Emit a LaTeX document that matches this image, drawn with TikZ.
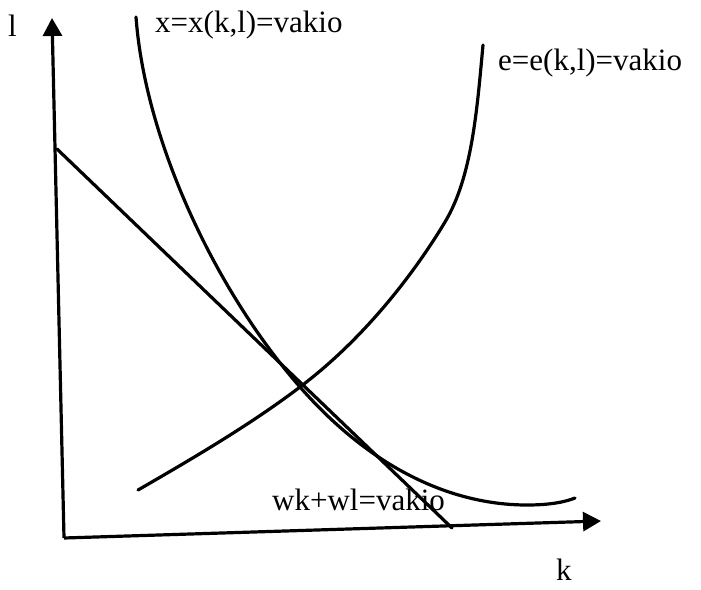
\documentclass[tikz,border=0pt]{standalone}
\usepackage{fontspec}
\setmainfont{Liberation Serif}
\usetikzlibrary{arrows.meta}
\tikzset{
  axis/.style={line width=3.2pt, -{Triangle[length=18pt,width=19pt]}},
  curve/.style={line width=3.2pt, line cap=round, line join=round},
  lbl/.style={anchor=base west, inner sep=0pt, font=\fontsize{31}{37}\selectfont}
}
\begin{document}
\begin{tikzpicture}[x=1pt,y=-1pt]
\useasboundingbox (0,0) rectangle (701,589);
% axes
\coordinate (O) at (64,538);
\coordinate (ytop) at (52,18);
\coordinate (xend) at (601,521);
\draw[axis] (O) -- (ytop);
\draw[axis] (O) -- (xend);
% budget line
\coordinate (b1) at (57,149);
\coordinate (b2) at (452,528);
\draw[curve] (b1) -- (b2);
% isoquant x
\coordinate (x0) at (136,17);
\coordinate (x1) at (300,387);
\coordinate (x2) at (527,505);
\coordinate (x3) at (575,498);
\draw[curve] (x0) .. controls (145,140) and (215,290) .. (x1)
  .. controls (370,467) and (450,505) .. (x2)
  .. controls (550,505) and (565,502) .. (x3);
% e curve
\coordinate (e0) at (138,490);
\coordinate (e1) at (300,387);
\coordinate (e2) at (445,222);
\coordinate (e3) at (483,45);
\draw[curve] (e0) .. controls (190,460) and (250,425) .. (e1)
  .. controls (365,338) and (415,272) .. (e2)
  .. controls (472,177) and (477,110) .. (e3);
% labels
\node[lbl] (ll) at (8,36) {l};
\node[lbl] (kl) at (556,580) {k};
\node[lbl] (xl) at (155,32) {x=x(k,l)=vakio};
\node[lbl] (el) at (498,70) {e=e(k,l)=vakio};
\node[lbl] (wl) at (272,510) {wk+wl=vakio};
\end{tikzpicture}
\end{document}
